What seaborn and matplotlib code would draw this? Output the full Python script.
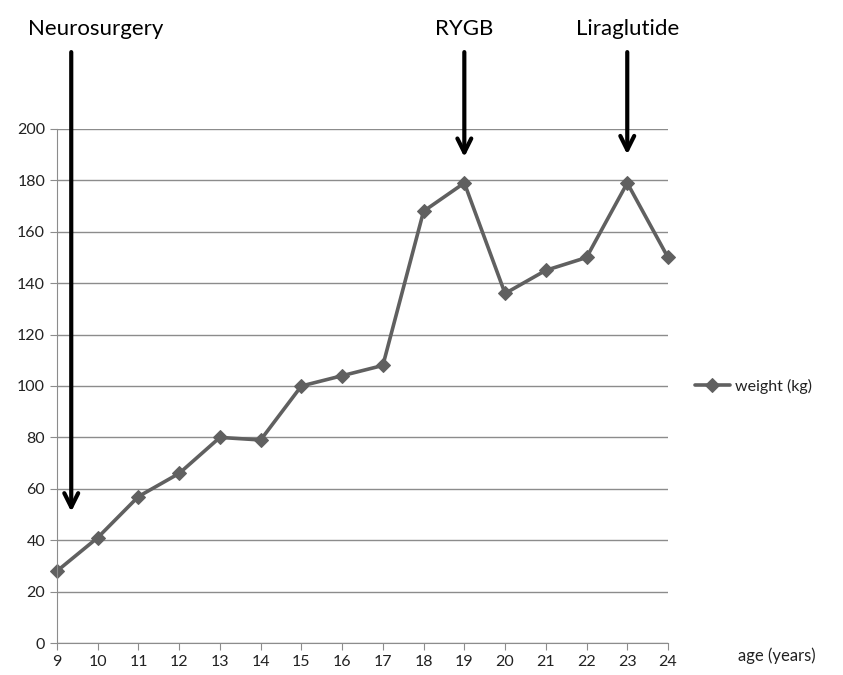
import pandas as pd
import matplotlib.pyplot as plt
import seaborn as sns

# values
age = [9, 10, 11, 12, 13, 14, 15, 16, 17, 18, 19, 20, 21, 22, 23, 24]
weight = [28, 41, 57, 66, 80, 79, 100, 104, 108, 168, 179, 136, 145, 150, 179, 150]

events = ['Neurosurgery', 'RYGB', 'Liraglutide']
event_age = [9.35, 19, 23]
event_tip = [50, 188, 189]

data = pd.DataFrame({'age': age, 'weight (kg)': weight})

sns.set_style('white')
plt.rcParams['font.family'] = ['Lato', 'DejaVu Sans']

fig = plt.figure(figsize=(8.43, 6.75), dpi=100)
ax = fig.add_axes([0.0676, 0.0474, 0.7248, 0.7615])

sns.lineplot(data=data, x='age', y='weight (kg)', ax=ax, color='#606060',
             linewidth=2.6, marker='D', markersize=7, markeredgecolor='#606060',
             label='weight (kg)')
for ln in ax.lines:
    ln.set_clip_on(False)

ax.set_xlim(9, 24)
ax.set_ylim(0, 200)
ax.set_xticks(age)
ax.set_yticks(range(0, 201, 20))
ax.yaxis.grid(True, color='#8c8c8c', linewidth=1)
ax.xaxis.grid(False)
ax.set_axisbelow(True)
for s in ['top', 'right']:
    ax.spines[s].set_visible(False)
ax.spines['left'].set_color('#8c8c8c')
ax.spines['bottom'].set_color('#8c8c8c')
ax.tick_params(axis='both', direction='out', length=5, color='#8c8c8c',
               labelsize=11.5, labelcolor='#222222', bottom=True, left=True)
ax.set_xlabel('')
ax.set_ylabel('')
fig.text(0.921, 0.029, 'age (years)', fontsize=12, ha='center', va='center', color='#222222')

leg = ax.legend(loc='center left', bbox_to_anchor=(1.02, 0.5), frameon=False,
                fontsize=11.5, handlelength=2.2, handletextpad=0.3)
leg.get_texts()[0].set_color('#222222')

# interventions
for name, x, tip in zip(events, event_age, event_tip):
    ax.annotate('', xy=(x, tip), xytext=(x, 231), annotation_clip=False,
                arrowprops=dict(arrowstyle='->', color='black', lw=3,
                                mutation_scale=25))
label_x = [8.3, 19, 23]
for name, x in zip(events, label_x):
    ax.text(x, 239, name, fontsize=16, ha='left' if name == 'Neurosurgery' else 'center',
            va='center', color='black', clip_on=False)

fig.savefig('out.png', dpi=100)
